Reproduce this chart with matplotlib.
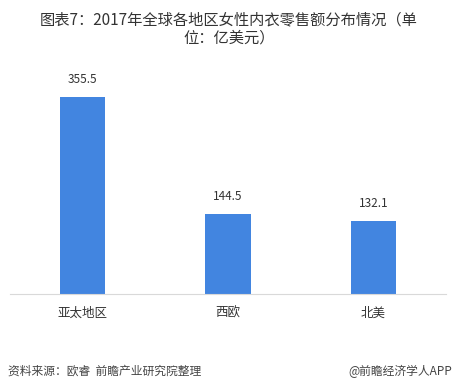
import matplotlib
matplotlib.use("Agg")
import matplotlib.pyplot as plt

plt.rcParams['font.family'] = ['Noto Sans CJK SC', 'DejaVu Sans']

regions = ["亚太地区", "西欧", "北美"]
sales = [355.5, 144.5, 132.1]

fig = plt.figure(figsize=(4.58, 3.9), dpi=100)
ax = fig.add_axes([10/458, 1-294/390, 436/458, (294-60)/390])

x = range(len(regions))
ax.bar(x, sales, width=0.31, color="#4285e0")
for i, v in enumerate(sales):
    ax.text(i, v + 20, f"{v}", ha="center", va="bottom", fontsize=8.5, color="#333333")

ax.set_xlim(-0.5, 2.5)
ax.set_ylim(0, 422)
ax.set_yticks([])
ax.set_xticks(list(x))
ax.set_xticklabels(regions, fontsize=9, color="#333333")
ax.tick_params(axis="x", length=0, pad=9)
for s in ["top", "left", "right"]:
    ax.spines[s].set_visible(False)
ax.spines["bottom"].set_color("#d9d9d9")

fig.text(0.5, 1-20/390, "图表7：2017年全球各地区女性内衣零售额分布情况（单", ha="center", va="center",
         fontsize=11, color="#333333")
fig.text(0.5, 1-38/390, "位：亿美元）", ha="center", va="center", fontsize=11, color="#333333")

fig.text(8/458, 1-371/390, "资料来源：欧睿  前瞻产业研究院整理", ha="left", va="center",
         fontsize=8.5, color="#444444", style="italic")
fig.text(452/458, 1-371/390, "@前瞻经济学人APP", ha="right", va="center",
         fontsize=8.5, color="#444444")

fig.savefig("out.png", dpi=100)
